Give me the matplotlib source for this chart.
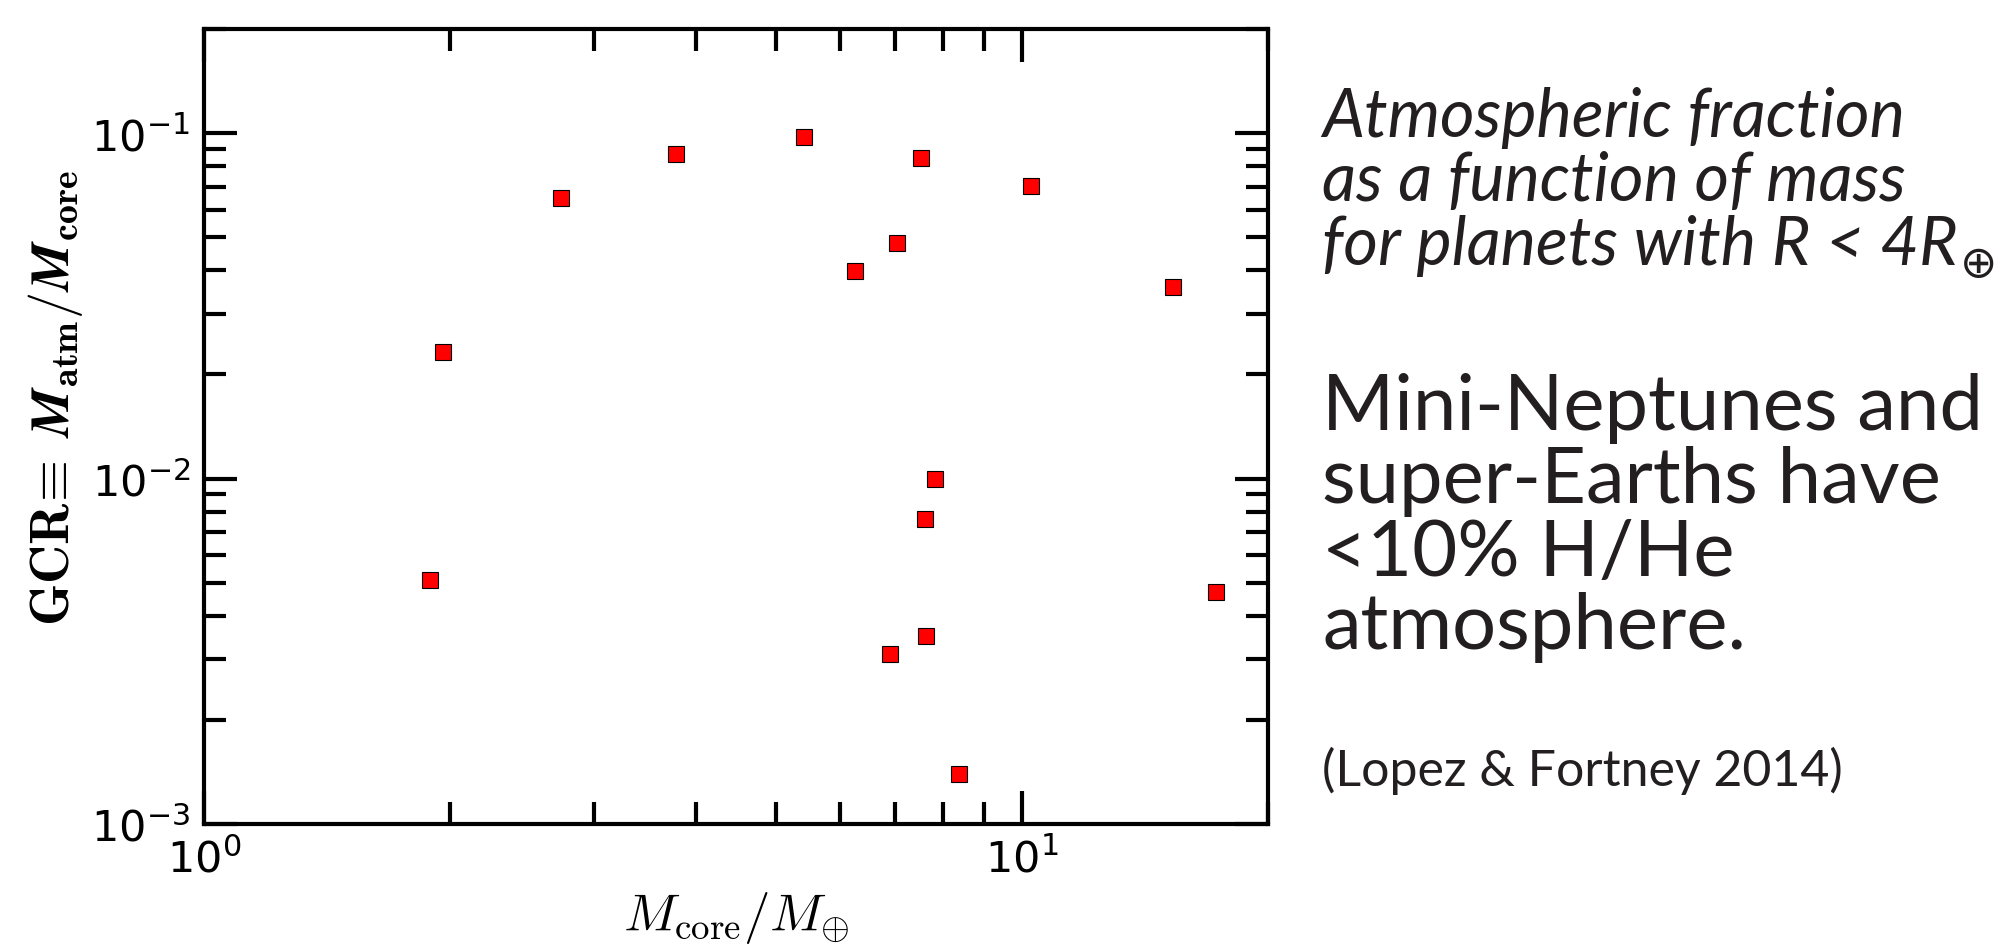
import numpy as np
import matplotlib
matplotlib.use("Agg")
import matplotlib.pyplot as plt
from matplotlib.ticker import LogLocator, NullFormatter

# ==========================================
# DATA
# ==========================================
core_mass = [1.96, 1.89, 2.73, 3.78, 5.41, 6.25, 7.03, 7.52, 10.26, 15.3,
             7.83, 7.61, 17.3, 7.63, 6.89, 8.37]
gcr = [0.0233, 0.0051, 0.0648, 0.0869, 0.0974, 0.0398, 0.0480, 0.0847, 0.0702, 0.0358,
       0.0100, 0.00766, 0.0047, 0.0035, 0.0031, 0.0014]

title_lines = ["Atmospheric fraction",
               "as a function of mass",
               "for planets with R < 4R"]
claim_lines = ["Mini-Neptunes and", "super-Earths have", "<10% H/He", "atmosphere."]
citation = "(Lopez & Fortney 2014)"

W, H = 2001, 945
TXT = '#231f20'
plt.rcParams['mathtext.fontset'] = 'cm'

fig = plt.figure(figsize=(W / 100, H / 100), dpi=100)
ax = fig.add_axes([204 / W, 1 - 825 / H, (1268 - 204) / W, (825 - 30) / H])

ax.plot(core_mass, gcr, linestyle='none', marker='s', markersize=11.5,
        markerfacecolor='red', markeredgecolor='black', markeredgewidth=0.8)

ax.set_xscale('log')
ax.set_yscale('log')
ax.set_xlim(1, 20)
ax.set_ylim(1e-3, 0.2)

for s in ax.spines.values():
    s.set_linewidth(3)

ax.xaxis.set_minor_locator(LogLocator(base=10, subs=np.arange(2, 10)))
ax.yaxis.set_minor_locator(LogLocator(base=10, subs=np.arange(2, 10)))
ax.xaxis.set_minor_formatter(NullFormatter())
ax.yaxis.set_minor_formatter(NullFormatter())
ax.tick_params(which='both', direction='in', top=True, right=True, width=3)
ax.tick_params(which='major', length=24, labelsize=31, pad=10)
ax.tick_params(which='minor', length=16)

ax.set_xlabel(r"$M_{\rm core}/M_{\oplus}$", fontsize=38, labelpad=6)
ax.set_ylabel(r"$\mathbf{GCR}\!\equiv\;\boldsymbol{M}_{\mathbf{atm}}/\boldsymbol{M}_{\mathbf{core}}$",
              fontsize=39)
ax.yaxis.set_label_coords(-0.112, 0.537)

# right-hand annotations
tx = 1322 / W
last = None
for i, line in enumerate(title_lines):
    last = fig.text(tx, 1 - (137 + 64 * i) / H, line, fontsize=48, family='Lato',
                    style='italic', color=TXT, va='baseline')
# earth symbol as subscript after the last italic line
fig.canvas.draw()
bb = last.get_window_extent()
fig.text((bb.x1 + 2) / W, 1 - (137 + 128 + 12) / H, "\u2295", fontsize=32,
         family=['DejaVu Sans'], color=TXT, va='baseline')

for i, line in enumerate(claim_lines):
    fig.text(tx, 1 - (430 + 73 * i) / H, line, fontsize=56, family='Lato',
             color=TXT, va='baseline')
fig.text(tx, 1 - 786 / H, citation, fontsize=36, family='Lato',
         color=TXT, va='baseline')

fig.savefig("out.png", dpi=100)
